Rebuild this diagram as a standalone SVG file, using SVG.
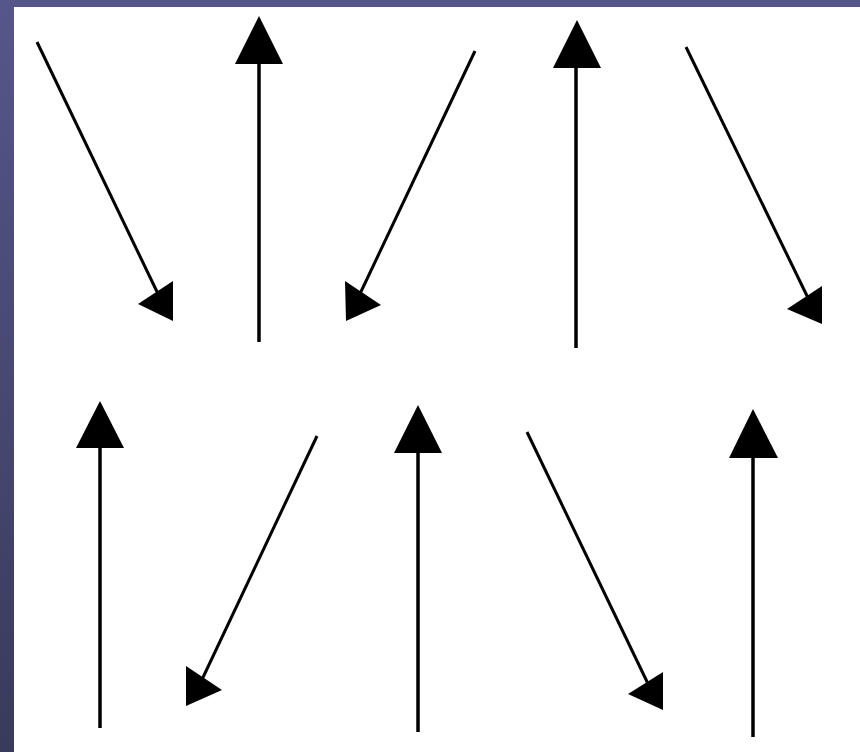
<svg xmlns="http://www.w3.org/2000/svg" width="860" height="752" viewBox="0 0 860 752">
  <defs>
    <linearGradient id="bg" x1="0" y1="0" x2="0" y2="1">
      <stop offset="0" stop-color="#56568a"/>
      <stop offset="1" stop-color="#3a3a5c"/>
    </linearGradient>
  </defs>
  <style>
    .shaft { stroke: #000; stroke-width: 3.5; fill: none; }
    .slant { stroke: #000; stroke-width: 3; fill: none; }
    .head { fill: #000; stroke: none; }
  </style>

  <!-- slide frame and white canvas -->
  <rect x="0" y="0" width="860" height="752" fill="url(#bg)"/>
  <rect x="14" y="7" width="846" height="745" fill="#ffffff"/>

  <!-- top row -->
  <g id="arrow-1">
    <line class="slant" x1="37" y1="42" x2="160" y2="298"/>
    <polygon class="head" points="173,281 138,304 173,321"/>
  </g>
  <g id="arrow-2">
    <line class="shaft" x1="259" y1="342" x2="259" y2="60"/>
    <polygon class="head" points="259,16 283,64 235,64"/>
  </g>
  <g id="arrow-3">
    <line class="slant" x1="475" y1="51" x2="358" y2="298"/>
    <polygon class="head" points="345,281 381,305 346,321"/>
  </g>
  <g id="arrow-4">
    <line class="shaft" x1="576" y1="348" x2="576" y2="64"/>
    <polygon class="head" points="577,20 601,68 553,68"/>
  </g>
  <g id="arrow-5">
    <line class="slant" x1="686" y1="47" x2="810" y2="302"/>
    <polygon class="head" points="822,286 787,309 822,324"/>
  </g>

  <!-- bottom row -->
  <g id="arrow-6">
    <line class="shaft" x1="100" y1="728" x2="100" y2="444"/>
    <polygon class="head" points="100,401 124,448 76,448"/>
  </g>
  <g id="arrow-7">
    <line class="slant" x1="317" y1="436" x2="198" y2="688"/>
    <polygon class="head" points="186,666 222,690 186,706"/>
  </g>
  <g id="arrow-8">
    <line class="shaft" x1="418" y1="732" x2="418" y2="449"/>
    <polygon class="head" points="418,405 442,453 394,453"/>
  </g>
  <g id="arrow-9">
    <line class="slant" x1="527" y1="432" x2="651" y2="690"/>
    <polygon class="head" points="663,672 628,694 663,710"/>
  </g>
  <g id="arrow-10">
    <line class="shaft" x1="753" y1="737" x2="753" y2="454"/>
    <polygon class="head" points="753,409 778,458 729,458"/>
  </g>
</svg>
